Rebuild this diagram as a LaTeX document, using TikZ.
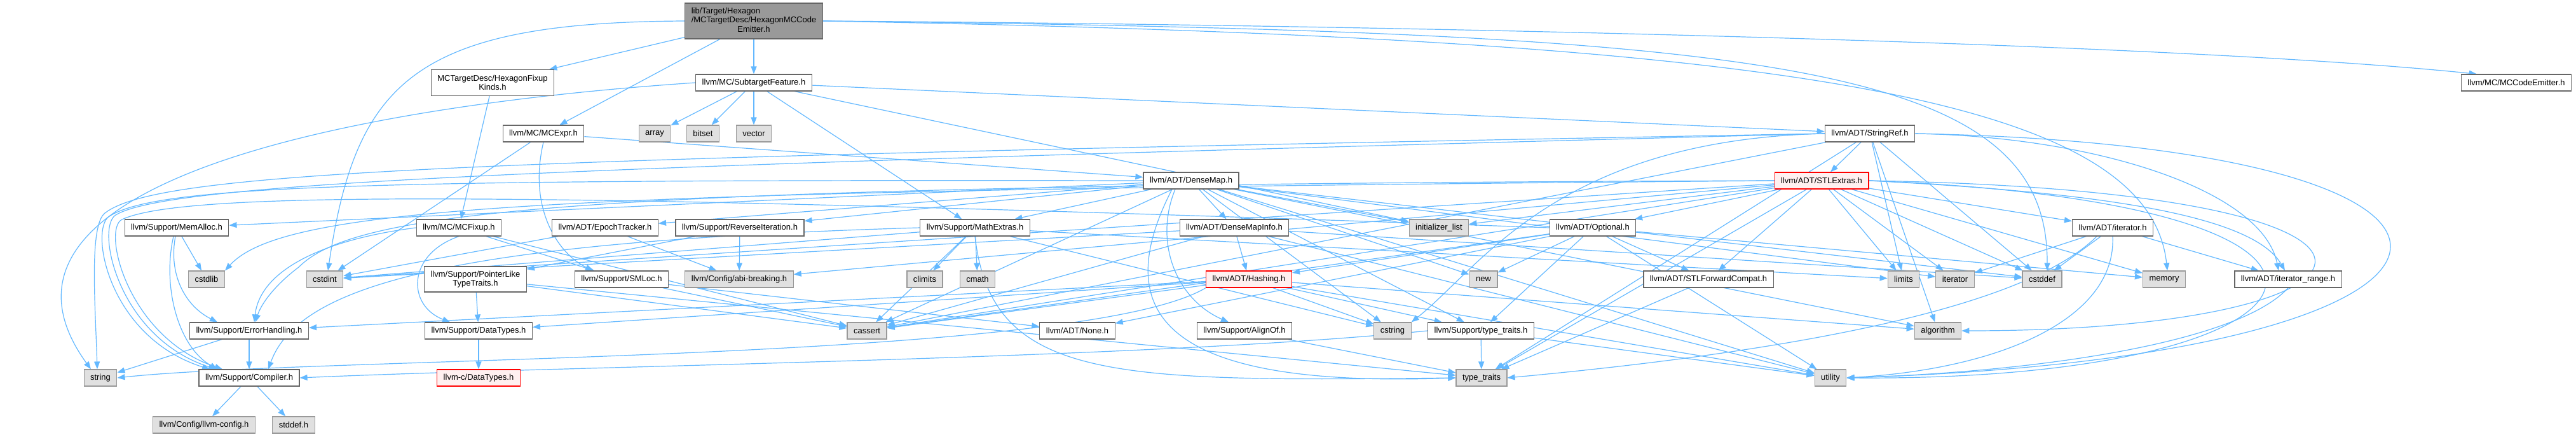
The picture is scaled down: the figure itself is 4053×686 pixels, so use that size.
\documentclass[tikz,border=0pt]{standalone}
\usepackage{fontspec}
\setmainfont{Liberation Sans}
\usetikzlibrary{arrows.meta,backgrounds}

\definecolor{edgeblue}{HTML}{63B8FF}
\definecolor{boxline}{HTML}{666666}
\definecolor{sysfill}{HTML}{E0E0E0}
\definecolor{sysline}{HTML}{999999}
\definecolor{curfill}{HTML}{999999}
\definecolor{redfill}{HTML}{FFF0F0}

\tikzset{
  hdr/.style={draw=boxline, fill=white, line width=1.2pt, inner xsep=10pt, inner ysep=2pt,
    minimum height=26pt, align=center, font=\fontsize{13}{14.5}\selectfont},
  sys/.style={hdr, draw=sysline, fill=sysfill},
  cur/.style={hdr, fill=curfill},
  trunc/.style={hdr, draw=red, fill=redfill},
  dep/.style={draw=edgeblue, line width=1.2pt, -{Triangle[length=12pt,width=9pt]}},
}

\begin{document}
\begin{tikzpicture}[x=1pt,y=-1pt]
\useasboundingbox (0,0) rectangle (4053,686);

% top rows
\node[cur, minimum height=56pt] (root) at (1186,33)
  {\begin{tabular}{@{}l@{}}lib/Target/Hexagon\\/MCTargetDesc/HexagonMCCode\\\multicolumn{1}{@{}c@{}}{Emitter.h}\end{tabular}};
\node[hdr, minimum height=41pt] (fixup) at (775,130) {MCTargetDesc/HexagonFixup\\Kinds.h};
\node[hdr] (sfeat) at (1186,130) {llvm/MC/SubtargetFeature.h};
\node[hdr] (mcce) at (3959,130) {llvm/MC/MCCodeEmitter.h};
\node[sys] (array) at (1030,210) {array};
\node[sys] (bitset) at (1106,210) {bitset};
\node[sys] (vector) at (1186,210) {vector};
\node[hdr] (mcexpr) at (855,210) {llvm/MC/MCExpr.h};
\node[hdr] (stringref) at (2942,210) {llvm/ADT/StringRef.h};
\node[hdr] (densemap) at (1874,284) {llvm/ADT/DenseMap.h};
\node[trunc] (stlextras) at (2866,284) {llvm/ADT/STLExtras.h};

% row 3
\node[hdr] (memalloc) at (278,358) {llvm/Support/MemAlloc.h};
\node[hdr] (mcfixup) at (722,358) {llvm/MC/MCFixup.h};
\node[hdr] (epoch) at (952,358) {llvm/ADT/EpochTracker.h};
\node[hdr] (reviter) at (1164,358) {llvm/Support/ReverseIteration.h};
\node[hdr] (mathext) at (1534,358) {llvm/Support/MathExtras.h};
\node[hdr] (dmapinfo) at (1942,358) {llvm/ADT/DenseMapInfo.h};
\node[sys] (initlist) at (2264,358) {initializer\_list};
\node[hdr] (optional) at (2506,358) {llvm/ADT/Optional.h};
\node[hdr] (iterh) at (3324,358) {llvm/ADT/iterator.h};

% row 4
\node[sys] (cstdlib) at (325,439) {cstdlib};
\node[sys] (cstdint) at (511,439) {cstdint};
\node[hdr, minimum height=40pt] (ptrlike) at (748,439) {llvm/Support/PointerLike\\TypeTraits.h};
\node[hdr] (smloc) at (978,439) {llvm/Support/SMLoc.h};
\node[sys] (abibreak) at (1163,439) {llvm/Config/abi-breaking.h};
\node[sys] (climits) at (1455,439) {climits};
\node[sys] (cmath) at (1538,439) {cmath};
\node[trunc] (hashing) at (1965,439) {llvm/ADT/Hashing.h};
\node[sys] (new) at (2334,439) {new};
\node[hdr] (stlfwd) at (2688,439) {llvm/ADT/STLForwardCompat.h};
\node[sys] (limits) at (2995,439) {limits};
\node[sys] (iterator) at (3076,439) {iterator};
\node[sys] (cstddef) at (3213,439) {cstddef};
\node[sys] (memory) at (3405,439) {memory};
\node[hdr] (itrange) at (3600,439) {llvm/ADT/iterator\_range.h};

% row 5
\node[hdr] (errhand) at (392,520) {llvm/Support/ErrorHandling.h};
\node[hdr] (datatypes) at (753,520) {llvm/Support/DataTypes.h};
\node[sys] (cassert) at (1364,520) {cassert};
\node[hdr] (none) at (1695,520) {llvm/ADT/None.h};
\node[hdr] (alignof) at (1958,520) {llvm/Support/AlignOf.h};
\node[sys] (cstring) at (2191,520) {cstring};
\node[hdr] (typetraitsh) at (2330,520) {llvm/Support/type\_traits.h};
\node[sys] (algorithm) at (3049,520) {algorithm};

% row 6 and 7
\node[sys] (string) at (158,594) {string};
\node[hdr] (compiler) at (392,594) {llvm/Support/Compiler.h};
\node[trunc] (cdatatypes) at (753,594) {llvm-c/DataTypes.h};
\node[sys] (typetraits) at (2331,594) {type\_traits};
\node[sys] (utility) at (2880,594) {utility};
\node[sys] (llvmconfig) at (321,668) {llvm/Config/llvm-config.h};
\node[sys] (stddef) at (462,668) {stddef.h};

\begin{scope}[on background layer]
% direct includes
\foreach \src/\dst in {root/fixup, root/mcexpr, root/sfeat, fixup/mcfixup,
  mcexpr/densemap, mcexpr/cstdint, sfeat/stringref, sfeat/mathext, sfeat/array,
  sfeat/bitset, sfeat/vector, sfeat/initlist, mcfixup/smloc, mcfixup/cassert,
  smloc/none, smloc/cassert, densemap/dmapinfo, densemap/epoch, densemap/mathext,
  densemap/memalloc, densemap/reviter, densemap/typetraitsh, densemap/algorithm,
  densemap/cassert, densemap/cstddef, densemap/cstring, densemap/initlist,
  densemap/iterator, densemap/new, densemap/utility, stringref/stlextras,
  stringref/algorithm, stringref/cassert, stringref/cstddef, stringref/limits,
  stringref/typetraits, stlextras/optional, stlextras/stlfwd, stlextras/iterh,
  stlextras/abibreak, stlextras/cassert, stlextras/cstddef, stlextras/cstdint,
  stlextras/initlist, stlextras/iterator, stlextras/limits, stlextras/memory,
  stlextras/typetraits, memalloc/cstdlib,
  epoch/abibreak, epoch/cstdint, reviter/abibreak, reviter/ptrlike,
  mathext/cassert, mathext/climits, mathext/cmath, mathext/cstdint,
  mathext/cstring, mathext/limits, dmapinfo/hashing, dmapinfo/cassert,
  dmapinfo/cstddef, dmapinfo/cstdint, dmapinfo/utility, optional/hashing,
  optional/none, optional/stlfwd, optional/typetraitsh, optional/cassert,
  optional/memory, optional/new, optional/utility, iterh/itrange, iterh/cstddef,
  iterh/iterator, hashing/datatypes, hashing/errhand, hashing/typetraitsh,
  hashing/algorithm, hashing/cassert, hashing/cstring, hashing/utility,
  stlfwd/typetraits, errhand/compiler, errhand/string, ptrlike/datatypes,
  ptrlike/cassert, ptrlike/typetraits, datatypes/cdatatypes, alignof/typetraits,
  typetraitsh/typetraits, typetraitsh/utility, compiler/llvmconfig, compiler/stddef}
  \draw[dep] (\src) -- (\dst);

% long routed edges
\draw[dep] (root.east) .. controls (2300,40) and (3450,70) .. ([xshift=25pt]mcce.north west);
\draw[dep] (root.east) .. controls (2800,50) and (3222,100) .. ([xshift=8pt]cstddef.north);
\draw[dep] (root.east) .. controls (2800,60) and (3380,150) .. ([xshift=5pt]memory.north);
\draw[dep] (root.west) .. controls (650,35) and (560,130) .. ([xshift=5pt]cstdint.north);
\draw[dep] (sfeat.west) .. controls (500,170) and (-60,300) .. ([xshift=-15pt]string.north);
\draw[dep] (mcexpr.south) .. controls (830,330) and (880,400) .. ([xshift=-45pt]smloc.north);
\draw[dep] (mcfixup.south) .. controls (640,400) and (640,480) .. ([xshift=-45pt]datatypes.north);
\draw[dep] (mcfixup.west) .. controls (520,375) and (410,420) .. ([xshift=8pt]errhand.north);
\draw[dep] ([xshift=-5pt]memalloc.south) .. controls (255,450) and (280,545) .. ([xshift=-50pt]compiler.north);
\draw[dep] ([xshift=-2pt]memalloc.south) .. controls (265,430) and (290,480) .. ([xshift=-50pt]errhand.north);
\draw[dep] ([xshift=-25pt]densemap.south) .. controls (1815,380) and (1850,470) .. ([xshift=-25pt]alignof.north);
\draw[dep] ([xshift=-30pt]densemap.south) .. controls (1740,500) and (1840,610) .. (typetraits.west);
\draw[dep] (densemap.west) .. controls (600,282) and (250,290) .. (172,340)
  .. controls (140,360) and (170,530) .. ([xshift=-62pt]compiler.north);
\draw[dep] (stringref.west) .. controls (900,262) and (270,285) .. (182,338)
  .. controls (150,358) and (185,530) .. ([xshift=-52pt]compiler.north);
\draw[dep] (optional.west) .. controls (800,300) and (290,300) .. (192,345)
  .. controls (160,360) and (200,530) .. ([xshift=-42pt]compiler.north);
\draw[dep] (stringref.west) .. controls (700,250) and (250,270) .. (165,335)
  .. controls (140,355) and (150,480) .. ([xshift=-5pt]string.north);
\draw[dep] (mathext.west) .. controls (700,380) and (470,450) .. ([xshift=30pt]compiler.north);
\draw[dep] (typetraitsh.west) .. controls (1800,565) and (900,575) .. (compiler.east);
\draw[dep] (hashing.south west) .. controls (1700,570) and (500,560) .. (string.east);
\draw[dep] (stlextras.west) .. controls (900,290) and (560,330) .. (470,420)
  .. controls (430,450) and (410,480) .. ([xshift=10pt]errhand.north);
\draw[dep] (stlextras.west) .. controls (900,300) and (450,320) .. (cstdlib.north east);
\draw[dep] (stringref.west) .. controls (2450,220) and (2330,420) .. (cstring.north east);
\draw[dep] (mathext.south) .. controls (1560,600) and (1750,600) .. (typetraits.west);
\draw[dep] (stringref.east) .. controls (4050,230) and (4000,560) .. (utility.east);
\draw[dep] (stlextras.east) .. controls (3900,300) and (3800,520) .. (algorithm.east);
\draw[dep] (stlextras.east) .. controls (3850,320) and (3700,600) .. (utility.east);
\draw[dep] (stringref.east) .. controls (3300,215) and (3560,300) .. ([xshift=-15pt]itrange.north);
\draw[dep] (stlextras.east) .. controls (3250,300) and (3540,330) .. ([xshift=-5pt]itrange.north);
\draw[dep] (iterh.south) .. controls (3330,500) and (3150,580) .. (utility.east);
\draw[dep] (itrange.south) .. controls (3520,540) and (3200,585) .. (utility.east);
\draw[dep] ([xshift=-25pt]iterh.south) .. controls (3200,470) and (2900,545) .. (typetraits.east);
\end{scope}
\end{tikzpicture}
\end{document}
